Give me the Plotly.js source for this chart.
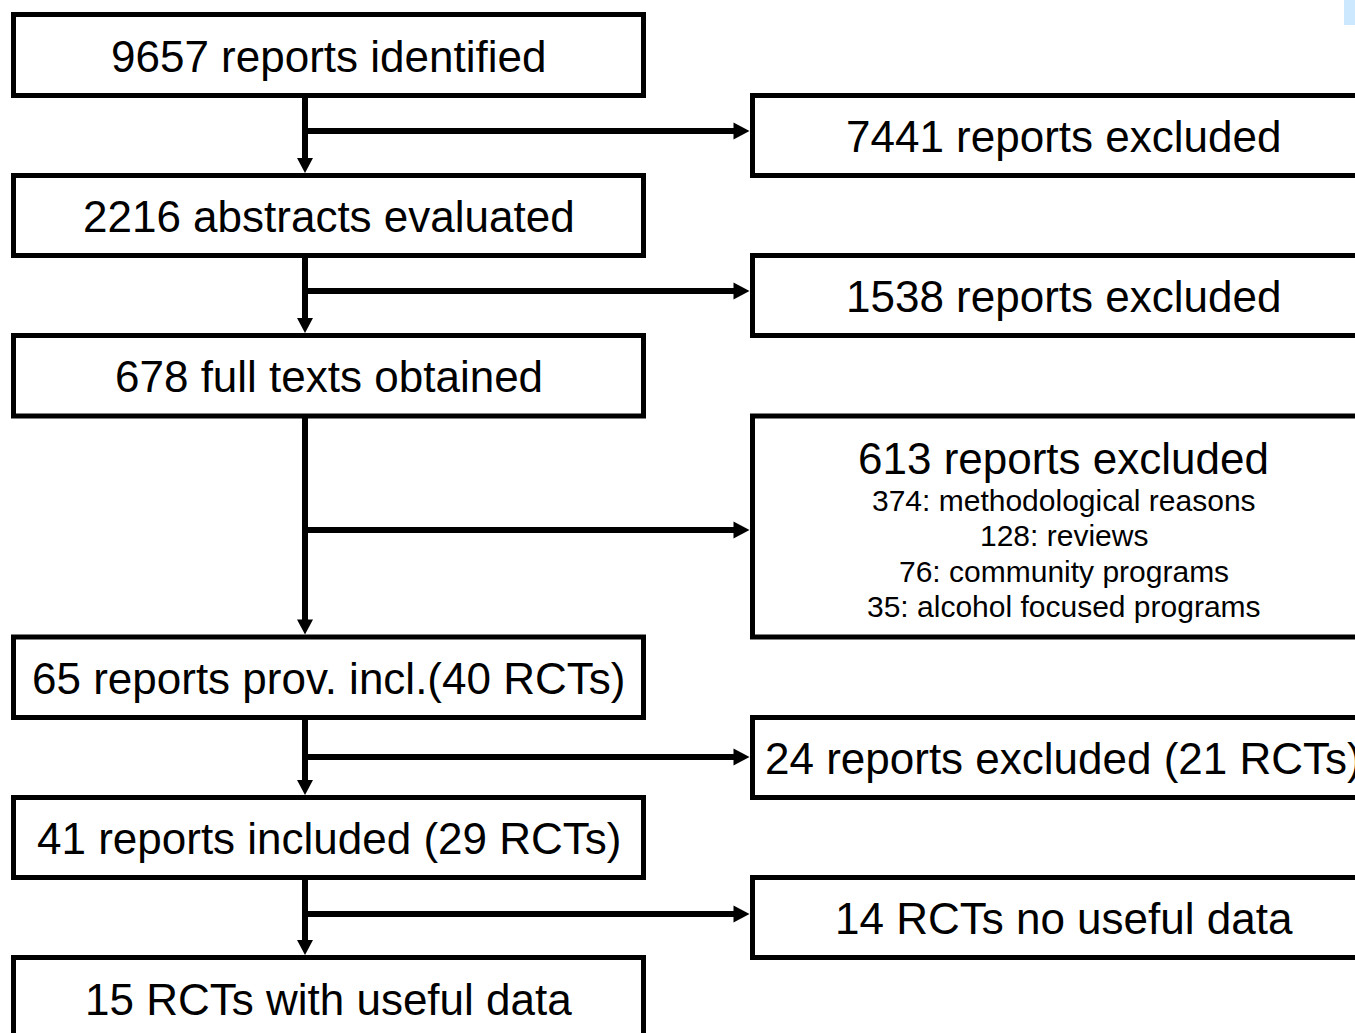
<!DOCTYPE html>
<html>
<head>
<meta charset="utf-8">
<script src="https://cdn.plot.ly/plotly-3.0.1.min.js"></script>
<style>
  html, body { margin: 0; padding: 0; background: #fff; overflow: hidden; }
  #chart { width: 1355px; height: 1033px; }
</style>
</head>
<body>
<div id="chart"></div>
<script>
// texto de las cajas del diagrama de flujo
const leftLabels = [
  "9657 reports identified",
  "2216 abstracts evaluated",
  "678 full texts obtained",
  "65 reports prov. incl.(40 RCTs)",
  "41 reports included (29 RCTs)",
  "15 RCTs with useful data"
];
const rightLabels = [
  "7441 reports excluded",
  "1538 reports excluded",
  "613 reports excluded",
  "24 reports excluded (21 RCTs)",
  "14 RCTs no useful data"
];
const detailLabels = [
  "374: methodological reasons",
  "128: reviews",
  "76: community programs",
  "35: alcohol focused programs"
];

// geometria (pixeles del lienzo)
const leftX = [13.5, 643.5];
const rightX = [752.5, 1375];
const leftY = [[14.5, 95.5], [175.5, 255.5], [335.5, 416], [637, 717.5], [797.5, 877.5], [957.5, 1040]];
const rightY = [[95.5, 175.5], [255.5, 335.5], [416, 637], [717.5, 797.5], [877.5, 957.5]];
const arrowY = [131, 291, 530, 757, 914];
const stemX = 305;

let shapes = [];
let annotations = [];
const font = { family: "Liberation Sans, Arial, sans-serif", color: "#000" };

function caja(x, y) {
  shapes.push({
    type: "rect", xref: "x", yref: "y",
    x0: x[0], x1: x[1], y0: y[0], y1: y[1],
    line: { color: "#000", width: 5 }, fillcolor: "rgba(0,0,0,0)"
  });
}
function linea(x0, y0, x1, y1) {
  shapes.push({
    type: "line", xref: "x", yref: "y", x0: x0, y0: y0, x1: x1, y1: y1,
    line: { color: "#000", width: 6 }
  });
}
function punta(path) {
  shapes.push({ type: "path", xref: "x", yref: "y", path: path, fillcolor: "#000", line: { width: 0 } });
}
function texto(x, y, t, size) {
  annotations.push({
    x: x, y: y, xref: "x", yref: "y", text: t, showarrow: false,
    xanchor: "center", yanchor: "middle", font: Object.assign({ size: size }, font)
  });
}

// cajas izquierdas
for (let i = 0; i < leftLabels.length; i++) {
  caja(leftX, leftY[i]);
  texto((leftX[0] + leftX[1]) / 2, (leftY[i][0] + leftY[i][1]) / 2 + 1, leftLabels[i], 44);
}
// cajas derechas
const rcx = (rightX[0] + rightX[1]) / 2;
for (let i = 0; i < rightLabels.length; i++) {
  caja(rightX, rightY[i]);
  if (i === 2) {
    texto(rcx, 458, rightLabels[i], 44);
    for (let k = 0; k < detailLabels.length; k++) {
      texto(rcx, 500 + k * 35.5, detailLabels[k], 30);
    }
  } else {
    texto(rcx, (rightY[i][0] + rightY[i][1]) / 2 + 1, rightLabels[i], 44);
  }
}
// flechas
for (let i = 0; i < leftLabels.length - 1; i++) {
  const top = leftY[i][1];
  const tip = leftY[i + 1][0] - 2.5;
  linea(stemX, top, stemX, tip - 14);
  punta(`M ${stemX - 8} ${tip - 15} L ${stemX + 8} ${tip - 15} L ${stemX} ${tip} Z`);
  const ay = arrowY[i];
  const htip = rightX[0] - 3;
  linea(stemX, ay, htip - 14, ay);
  punta(`M ${htip - 16} ${ay - 8.5} L ${htip - 16} ${ay + 8.5} L ${htip} ${ay} Z`);
}
// mancha azul de la esquina
shapes.push({
  type: "rect", xref: "x", yref: "y", x0: 1344, x1: 1356, y0: -1, y1: 25,
  fillcolor: "#cce8ff", line: { width: 0 }
});

const layout = {
  width: 1355, height: 1033,
  margin: { l: 0, r: 0, t: 0, b: 0 },
  paper_bgcolor: "#fff", plot_bgcolor: "#fff",
  xaxis: { range: [0, 1355], visible: false, fixedrange: true },
  yaxis: { range: [1033, 0], visible: false, fixedrange: true },
  showlegend: false,
  shapes: shapes,
  annotations: annotations
};

Plotly.newPlot("chart", [], layout, { displayModeBar: false, staticPlot: true });
</script>
</body>
</html>
